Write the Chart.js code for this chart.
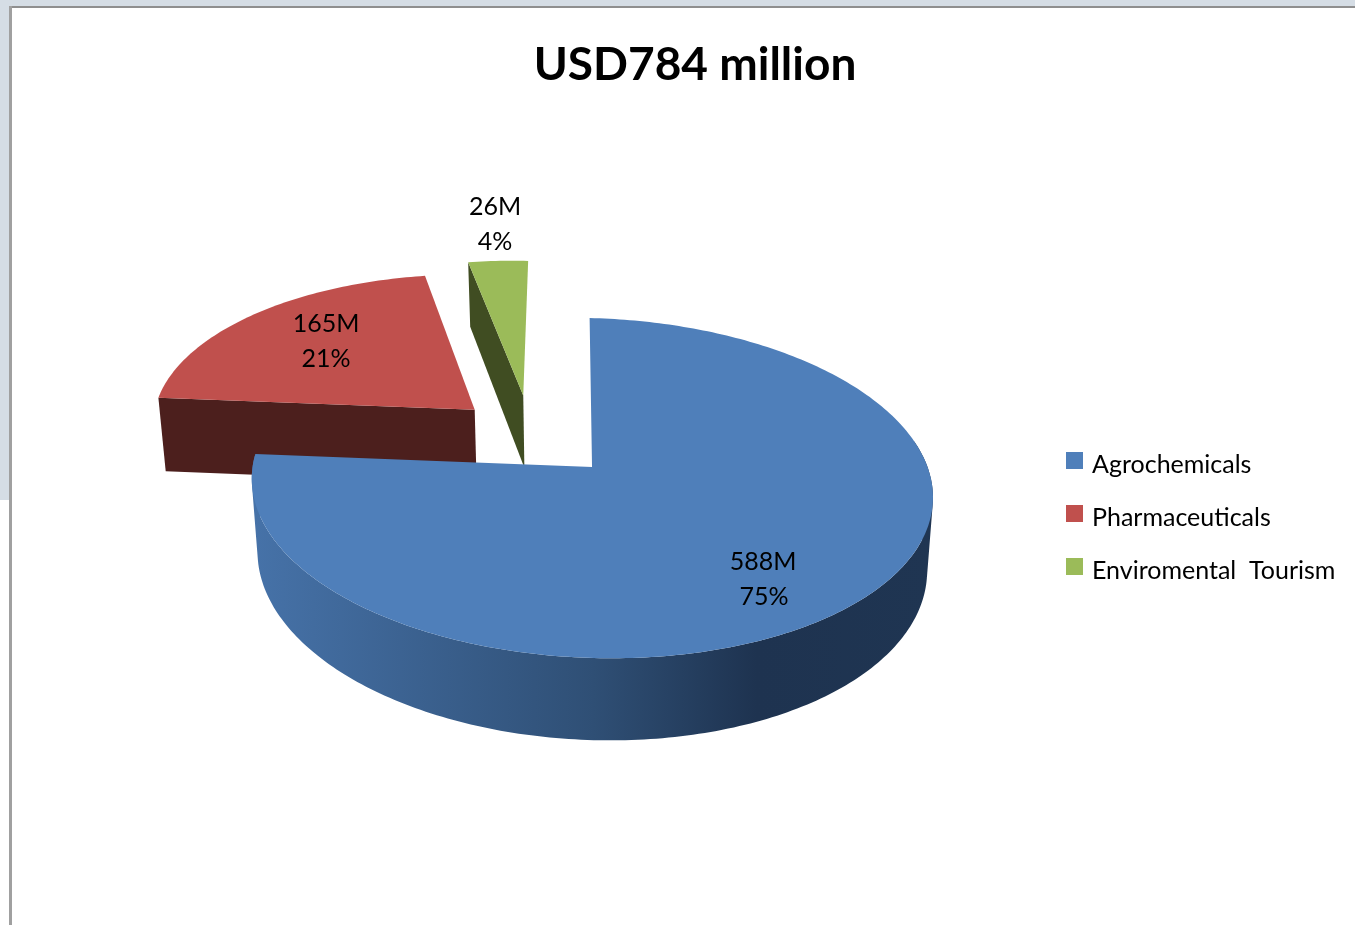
<!DOCTYPE html>
<html>
<head>
<meta charset="utf-8">
<title>USD784 million</title>
<style>
  html, body { margin: 0; background: #fff; overflow: hidden; }
  #strip-top { position: absolute; left: 0; top: 0; width: 1355px; height: 6px; background: #d5dde5; }
  #strip-left { position: absolute; left: 0; top: 0; width: 9px; height: 500px; background: #d5dde5; }
  #frame-top { position: absolute; left: 9px; top: 6px; width: 1346px; height: 2px; background: #8f8f8f; }
  #frame-left { position: absolute; left: 9px; top: 6px; width: 3px; height: 919px; background: #a0a0a0; }
  #chart { position: absolute; left: 0; top: 0; }
</style>
<script src="https://cdn.jsdelivr.net/npm/chart.js@4"></script>
</head>
<body>
<div id="strip-top"></div>
<div id="strip-left"></div>
<div id="frame-top"></div>
<div id="frame-left"></div>
<canvas id="chart" width="1355" height="927"></canvas>
<script>
const categories = ['Agrochemicals', 'Pharmaceuticals', 'Enviromental  Tourism'];
const amounts = [588, 165, 26];
const amountLabels = ['588M', '165M', '26M'];
const shareLabels = ['75%', '21%', '4%'];

const colors = ['#4f7fba', '#c0504d', '#9bbb59'];
const wallColors = ['#2f4f75', '#4c1f1d', '#404d22'];
const font = 'Lato, Carlito, sans-serif';

// how the flat pie is laid on the page: perspective ground plane
const view = { cx: 590, cy: 467, vx: 570, radius: 338, squash: 167.4, persp: 0.1235, shear: 8, taper: 0.017 };
// slices pulled out of the pie, in radius units
const explode = [[0.006, 0], [-0.353, 0.34], [-0.205, 0.44]];
const sliceScale = [1, 0.98, 1];
const depths = [72, 77, 76];
const labelPos = [[763, 562], [326, 324], [495, 207]];

function project(X, Y, drop) {
    const s = 1 / (1 + view.persp * Y);
    const r = view.radius * (drop ? 1 - view.taper : 1);
    return {
        x: view.vx + (view.cx - view.vx + r * X) * s,
        y: view.cy - view.squash * Y * s + drop * s + view.shear * X * s
    };
}

function rimPoints(arc, i, drop) {
    const off = explode[i];
    const k = sliceScale[i];
    const pts = [];
    const steps = Math.max(8, Math.ceil((arc.endAngle - arc.startAngle) * 60));
    for (let n = 0; n <= steps; n++) {
        const a = arc.startAngle + (arc.endAngle - arc.startAngle) * n / steps;
        pts.push(project(off[0] + k * Math.cos(a), off[1] - k * Math.sin(a), drop));
    }
    return pts;
}

function tracePoly(ctx, pts) {
    pts.forEach((p, i) => i ? ctx.lineTo(p.x, p.y) : ctx.moveTo(p.x, p.y));
    ctx.closePath();
}

function fillPoly(ctx, pts, style) {
    ctx.beginPath();
    tracePoly(ctx, pts);
    ctx.fillStyle = style;
    ctx.fill();
}

function signedArea(pts) {
    let sum = 0;
    pts.forEach((p, i) => {
        const q = pts[(i + 1) % pts.length];
        sum += p.x * q.y - q.x * p.y;
    });
    return sum;
}

// outer wall of the big slice, front half only, as one path so there are no seams
function drawFrontWall(ctx, top, bottom) {
    const wall = ctx.createLinearGradient(254, 0, 933, 0);
    wall.addColorStop(0, '#4672a8');
    wall.addColorStop(0.5, '#2f4f75');
    wall.addColorStop(0.74, '#1e3350');
    wall.addColorStop(1, '#1f3552');
    ctx.beginPath();
    for (let n = 0; n < top.length - 1; n++) {
        if (top[n].y < 440) continue;
        const quad = [top[n], top[n + 1], bottom[n + 1], bottom[n]];
        tracePoly(ctx, signedArea(quad) < 0 ? quad.reverse() : quad);
    }
    ctx.fillStyle = wall;
    ctx.fill();
}

function drawSlice(ctx, arc, i) {
    const off = explode[i];
    const top = rimPoints(arc, i, 0);
    const bottom = rimPoints(arc, i, depths[i]);
    const apexTop = project(off[0], off[1], 0);
    const apexBottom = project(off[0], off[1], depths[i]);

    if (i === 0) {
        drawFrontWall(ctx, top, bottom);
    } else {
        fillPoly(ctx, [apexTop, top[0], bottom[0], apexBottom], wallColors[i]);
    }
    fillPoly(ctx, [apexTop].concat(top), colors[i]);
}

// legend swatch: image is taller than the square so the square sits above the text middle
function swatch(color) {
    const c = document.createElement('canvas');
    c.width = 17;
    c.height = 26;
    const g = c.getContext('2d');
    g.fillStyle = color;
    g.fillRect(0, 0, 17, 17);
    return c;
}

const pie3d = {
    id: 'pie3d',
    afterLayout(chart) {
        // the legend sits to the right of the pie, slightly off the default box
        const l = chart.legend;
        const dx = 1069.5 - (l.left + l.options.labels.padding);
        const dy = 518 - (l.top + l.bottom) / 2;
        l.left += dx; l.right += dx; l.top += dy; l.bottom += dy;
    },
    beforeDatasetDraw(chart, args) {
        const ctx = chart.ctx;
        const arcs = args.meta.data;
        ctx.save();
        [2, 1, 0].forEach(i => drawSlice(ctx, arcs[i], i));
        ctx.fillStyle = '#000';
        ctx.font = '25px ' + font;
        ctx.textAlign = 'center';
        ctx.textBaseline = 'middle';
        labelPos.forEach((p, i) => {
            ctx.fillText(amountLabels[i], p[0], p[1]);
            ctx.fillText(shareLabels[i], p[0] + (i === 0 ? 1 : 0), p[1] + 35);
        });
        ctx.restore();
        return false;
    }
};

new Chart(document.getElementById('chart'), {
    type: 'pie',
    data: {
        labels: categories,
        datasets: [{ data: amounts, backgroundColor: colors, borderWidth: 0 }]
    },
    options: {
        responsive: false,
        animation: false,
        devicePixelRatio: 1,
        layout: { padding: { left: 35, top: 38 } },
        plugins: {
            title: {
                display: true,
                text: 'USD784 million',
                color: '#000',
                font: { family: font, size: 46, weight: 'bold' },
                padding: { top: 0, bottom: 10 }
            },
            legend: {
                position: 'right',
                labels: {
                    color: '#000',
                    font: { family: font, size: 25 },
                    usePointStyle: true,
                    pointStyleWidth: 10,
                    boxHeight: 17,
                    padding: 28,
                    generateLabels(chart) {
                        const items = Chart.overrides.pie.plugins.legend.labels.generateLabels(chart);
                        items.forEach((item, i) => { item.pointStyle = swatch(colors[i]); });
                        return items;
                    }
                }
            },
            tooltip: { enabled: false }
        }
    },
    plugins: [pie3d]
});
</script>
</body>
</html>
